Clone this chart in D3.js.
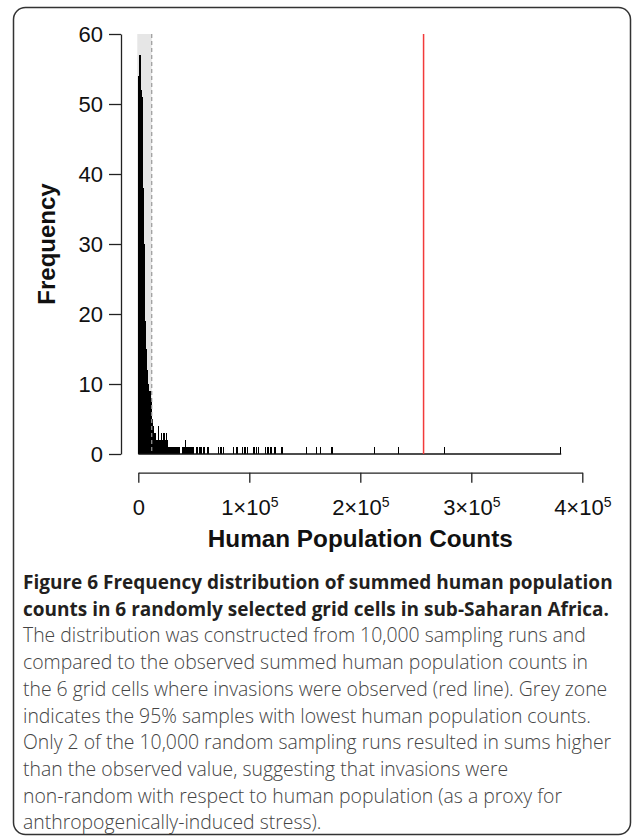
<!DOCTYPE html>
<html>
  <head>
    <meta charset="utf-8">
    <title>Figure 6</title>
    <style>
      body { margin: 0; background: #fff; }
      svg { display: block; }
    </style>
  </head>
  <body>
    <script src="https://cdn.jsdelivr.net/npm/d3@7"></script>
    <script>
      // histogram, bins of 1000 people
      var binWidth = 1000;
      var headFreq = [54, 57, 52, 51, 38, 30, 19, 15, 12, 10, 9, 8, 5, 4, 3, 3, 2, 2, 4, 2,
                      3, 2, 3, 3, 2, 3, 2, 1, 1, 1, 1, 1, 1, 1, 1, 1, 1, 1, 0, 1,
                      1, 1, 2, 1, 1, 1, 1, 1, 1, 1];
      // isolated bins (start, in thousands) holding a single run
      var tailBins = [52, 53, 55, 56, 58, 59, 62, 63, 72, 74, 76, 85, 88, 89, 93, 95, 96, 98,
                      103, 104, 106, 108, 114, 116, 117, 119, 122, 123, 129, 151, 160, 164,
                      174, 212, 234, 275, 380];
      var lastBinEnd = 381000;
      var observed = 257000;     // red line
      var lowest95 = 12100;      // grey zone upper limit

      var xTicks = [0, 100000, 200000, 300000, 400000];
      var xTickBase = ['0', '1×10', '2×10', '3×10', '4×10'];
      var xTickExp = ['', '5', '5', '5', '5'];
      var yTicks = [0, 10, 20, 30, 40, 50, 60];

      var captionTitle = [
        'Figure 6 Frequency distribution of summed human population',
        'counts in 6 randomly selected grid cells in sub-Saharan Africa.'
      ];
      var captionBody = [
        'The distribution was constructed from 10,000 sampling runs and',
        'compared to the observed summed human population counts in',
        'the 6 grid cells where invasions were observed (red line). Grey zone',
        'indicates the 95% samples with lowest human population counts.',
        'Only 2 of the 10,000 random sampling runs resulted in sums higher',
        'than the observed value, suggesting that invasions were',
        'non-random with respect to human population (as a proxy for',
        'anthropogenically-induced stress).'
      ];

      var bins = headFreq.map(function(f, i) { return {x0: i * binWidth, freq: f}; })
        .concat(tailBins.map(function(k) { return {x0: k * 1000, freq: 1}; }))
        .filter(function(d) { return d.freq > 0; });

      var W = 637, H = 837;
      var svg = d3.select('body').append('svg').attr('width', W).attr('height', H);

      // figure frame
      svg.append('rect')
        .attr('x', 13.5).attr('y', 7.5)
        .attr('width', 617).attr('height', 827)
        .attr('rx', 12)
        .attr('fill', 'none')
        .attr('stroke', '#333')
        .attr('stroke-width', 1.5);

      var x = d3.scaleLinear().domain([0, 400000]).range([138.3, 582.3]);
      var y = d3.scaleLinear().domain([0, 60]).range([454, 34]);

      // grey zone
      svg.append('rect')
        .attr('x', x(0) - 1)
        .attr('y', y(60))
        .attr('width', x(lowest95) - x(0) + 1)
        .attr('height', y(0) - y(60))
        .attr('fill', '#e6e6e6');

      // bars
      svg.append('g').selectAll('rect')
        .data(bins)
        .enter().append('rect')
        .attr('x', function(d) { return x(d.x0); })
        .attr('width', function(d) { return Math.max(1, x(d.x0 + binWidth) - x(d.x0)); })
        .attr('y', function(d) { return y(d.freq); })
        .attr('height', function(d) { return y(0) - y(d.freq); })
        .attr('fill', '#000')
        .attr('shape-rendering', 'crispEdges');

      // baseline of the empty bins
      svg.append('line')
        .attr('x1', x(0)).attr('x2', x(lastBinEnd))
        .attr('y1', y(0)).attr('y2', y(0))
        .attr('stroke', '#111')
        .attr('stroke-width', 1.3);

      // 95% limit
      svg.append('line')
        .attr('x1', x(lowest95)).attr('x2', x(lowest95))
        .attr('y1', y(60)).attr('y2', y(0))
        .attr('stroke', '#999')
        .attr('stroke-width', 1.2)
        .attr('stroke-dasharray', '4,3');

      // observed value
      svg.append('line')
        .attr('x1', x(observed)).attr('x2', x(observed))
        .attr('y1', y(60)).attr('y2', y(0))
        .attr('stroke', '#f23a3a')
        .attr('stroke-width', 1.5);

      // y axis
      var gy = svg.append('g')
        .attr('transform', 'translate(121,0)')
        .call(d3.axisLeft(y).tickValues(yTicks).tickSize(12).tickSizeOuter(0).tickPadding(6));
      gy.selectAll('text').attr('font-size', 22).attr('font-family', 'Liberation Sans, Arial, sans-serif').attr('fill', '#111');

      // x axis
      var gx = svg.append('g')
        .attr('transform', 'translate(0,472.7)')
        .call(d3.axisBottom(x).tickValues(xTicks).tickSize(10).tickSizeOuter(0).tickFormat(function() { return ''; }));
      var tickText = gx.selectAll('.tick text')
        .attr('y', 42.5)
        .attr('dy', null)
        .attr('font-size', 22)
        .attr('font-family', 'Liberation Sans, Arial, sans-serif')
        .attr('fill', '#111');
      tickText.append('tspan').text(function(d, i) { return xTickBase[i]; });
      tickText.append('tspan')
        .attr('font-size', 14)
        .attr('dy', -8)
        .text(function(d, i) { return xTickExp[i]; });

      svg.selectAll('.domain, .tick line').attr('stroke', '#222').attr('stroke-width', 1.3);

      // axis titles
      svg.append('text')
        .attr('x', x(200000))
        .attr('y', 547)
        .attr('text-anchor', 'middle')
        .attr('font-family', 'Liberation Sans, Arial, sans-serif')
        .attr('font-weight', 'bold')
        .attr('font-size', 24.3)
        .attr('fill', '#111')
        .text('Human Population Counts');

      svg.append('text')
        .attr('transform', 'translate(55,' + y(30) + ') rotate(-90)')
        .attr('text-anchor', 'middle')
        .attr('font-family', 'Liberation Sans, Arial, sans-serif')
        .attr('font-weight', 'bold')
        .attr('font-size', 24)
        .attr('fill', '#111')
        .text('Frequency');

      // caption
      var cap = svg.append('g').attr('font-family', 'Open Sans, sans-serif');
      cap.selectAll('.title')
        .data(captionTitle)
        .enter().append('text')
        .attr('class', 'title')
        .attr('x', 23)
        .attr('y', function(d, i) { return 589 + i * 26.7; })
        .attr('font-size', 19)
        .attr('font-weight', 'bold')
        .attr('fill', '#231f20')
        .text(function(d) { return d; });
      cap.selectAll('.body')
        .data(captionBody)
        .enter().append('text')
        .attr('class', 'body')
        .attr('x', 23)
        .attr('y', function(d, i) { return 589 + (i + 2) * 26.7; })
        .attr('font-size', 19.4)
        .attr('font-weight', 300)
        .attr('fill', '#444')
        .text(function(d) { return d; });
    </script>
  </body>
</html>
